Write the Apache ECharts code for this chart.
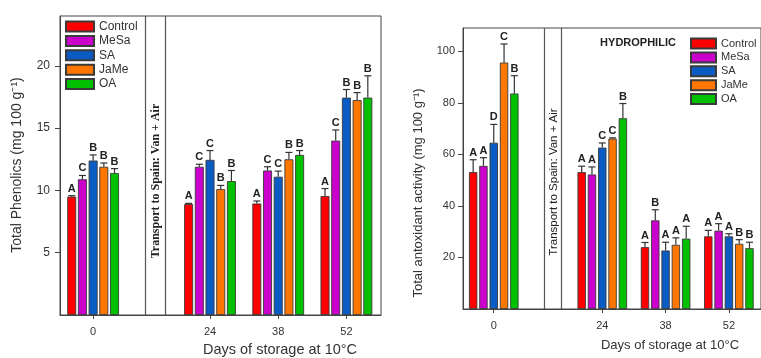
<!DOCTYPE html>
<html><head><meta charset="utf-8">
<script src="https://cdn.jsdelivr.net/npm/echarts@6/dist/echarts.min.js"></script>
<style>html,body{margin:0;padding:0;background:#fff}#c{width:761px;height:358px}</style>
</head><body><div id="c"></div>
<script>
// ---- data ----
const days = [0, 24, 38, 52];
const names = ['Control', 'MeSa', 'SA', 'JaMe', 'OA'];
const colors = ['#ff0000', '#cc00cc', '#0a5cc4', '#ff7700', '#00c000'];

// Total phenolics (left)
const phenControl = [9.5, 8.9, 8.95, 9.55];
const phenMeSa    = [10.9, 11.9, 11.6, 14.0];
const phenSA      = [12.4, 12.45, 11.1, 17.45];
const phenJaMe    = [11.9, 10.1, 12.5, 17.25];
const phenOA      = [11.4, 10.75, 12.85, 17.45];
const phenControlErr = [0.08, 0.06, 0.2, 0.6];
const phenMeSaErr    = [0.3, 0.2, 0.3, 0.85];
const phenSAErr      = [0.45, 0.75, 0.45, 0.65];
const phenJaMeErr    = [0.3, 0.3, 0.55, 0.6];
const phenOAErr      = [0.35, 0.85, 0.35, 1.75];
const phenControlLet = ['A', 'A', 'A', 'A'];
const phenMeSaLet    = ['C', 'C', 'C', 'C'];
const phenSALet      = ['B', 'C', 'C', 'B'];
const phenJaMeLet    = ['B', 'B', 'B', 'B'];
const phenOALet      = ['B', 'B', 'B', 'B'];

// Total antioxidant activity (right)
const taaControl = [53.1, 53.1, 24.0, 28.2];
const taaMeSa    = [55.5, 52.2, 34.4, 30.4];
const taaSA      = [64.5, 62.6, 22.7, 28.2];
const taaJaMe    = [95.6, 66.1, 24.9, 25.3];
const taaOA      = [83.6, 74.0, 27.3, 23.6];
const taaControlErr = [4.8, 2.3, 1.8, 2.3];
const taaMeSaErr    = [3.2, 2.9, 4.1, 2.7];
const taaSAErr      = [7.1, 1.8, 3.2, 1.0];
const taaJaMeErr    = [7.2, 0.3, 2.7, 1.6];
const taaOAErr      = [6.9, 5.7, 4.8, 2.3];
const taaControlLet = ['A', 'A', 'A', 'A'];
const taaMeSaLet    = ['A', 'A', 'B', 'A'];
const taaSALet      = ['D', 'C', 'A', 'A'];
const taaJaMeLet    = ['C', 'C', 'A', 'B'];
const taaOALet      = ['B', 'B', 'A', 'B'];

const phenTicks = [5, 10, 15, 20];
const taaTicks = [20, 40, 60, 80, 100];
const transportLeft = [10.8, 14.9];
const transportRight = [11.2, 14.9];

// ---- build ----
const FONT = 'Liberation Sans, Arial, sans-serif';
const phenVals = [phenControl, phenMeSa, phenSA, phenJaMe, phenOA];
const phenErrs = [phenControlErr, phenMeSaErr, phenSAErr, phenJaMeErr, phenOAErr];
const phenLets = [phenControlLet, phenMeSaLet, phenSALet, phenJaMeLet, phenOALet];
const taaVals = [taaControl, taaMeSa, taaSA, taaJaMe, taaOA];
const taaErrs = [taaControlErr, taaMeSaErr, taaSAErr, taaJaMeErr, taaOAErr];
const taaLets = [taaControlLet, taaMeSaLet, taaSALet, taaJaMeLet, taaOALet];

const panels = [
  { vals: phenVals, errs: phenErrs, lets: phenLets, bw: 9, gap: 1.7, trans: transportLeft },
  { vals: taaVals, errs: taaErrs, lets: taaLets, bw: 8.4, gap: 1.9, trans: transportRight }
];

const series = [];
panels.forEach((p, gi) => {
  // transport separator lines
  series.push({
    type: 'line', xAxisIndex: gi, yAxisIndex: gi, data: [], silent: true,
    markLine: {
      silent: true, symbol: 'none', label: { show: false }, animation: false,
      lineStyle: { color: '#555', width: 1.2, type: 'solid' },
      data: p.trans.map(v => ({ xAxis: v }))
    }
  });
  names.forEach((n, i) => {
    series.push({
      name: n, type: 'bar', xAxisIndex: gi, yAxisIndex: gi,
      barWidth: p.bw, barGap: (p.gap / p.bw * 100) + '%',
      itemStyle: { color: colors[i], borderColor: '#3a3a3a', borderWidth: 0.9 },
      data: days.map((d, k) => [d, p.vals[i][k]]),
      z: 2
    });
  });
  names.forEach((n, i) => {
    const off = (i - 2) * (p.bw + p.gap);
    const lets = p.lets[i];
    series.push({
      type: 'custom', xAxisIndex: gi, yAxisIndex: gi, z: 5, silent: true,
      data: days.map((d, k) => [d, p.vals[i][k], p.errs[i][k]]),
      encode: { x: 0, y: [1, 2] },
      renderItem: function (params, api) {
        const x = api.value(0), y = api.value(1), e = api.value(2);
        const p0 = api.coord([x, y]);
        const p1 = api.coord([x, y + e]);
        const cx = p0[0] + off;
        return {
          type: 'group', children: [
            { type: 'line', shape: { x1: cx, y1: p0[1], x2: cx, y2: p1[1] }, style: { stroke: '#333', lineWidth: 1.2 } },
            { type: 'line', shape: { x1: cx - 3.5, y1: p1[1], x2: cx + 3.5, y2: p1[1] }, style: { stroke: '#333', lineWidth: 1.2 } },
            { type: 'text', x: cx, y: p1[1] - 1.5, style: { text: lets[params.dataIndex], align: 'center', verticalAlign: 'bottom', font: 'bold 11px ' + FONT, fill: '#222' } }
          ]
        };
      }
    });
  });
});

const axisCommonX = (gi) => ({
  type: 'value', gridIndex: gi, min: -6.8, max: 59.1,
  axisLine: { show: true, onZero: false, lineStyle: { color: '#444', width: 1 } },
  axisTick: { show: true, customValues: days, length: 4, lineStyle: { color: '#444' } },
  axisLabel: { customValues: days, color: '#333', fontSize: 11, fontFamily: FONT, margin: 11 },
  splitLine: { show: false }
});

const option = {
  animation: false,
  backgroundColor: '#fff',
  grid: [
    { left: 60, top: 16, width: 321, height: 299, show: true, borderColor: '#444', borderWidth: 1 },
    { left: 463, top: 28, width: 303, height: 281, show: true, borderColor: '#444', borderWidth: 1 }
  ],
  xAxis: [axisCommonX(0), axisCommonX(1)],
  yAxis: [
    { type: 'value', gridIndex: 0, min: 0, max: 24,
      axisLine: { show: true, onZero: false, lineStyle: { color: '#444' } },
      axisTick: { show: true, customValues: phenTicks, length: 5, inside: false, lineStyle: { color: '#444' } },
      axisLabel: { customValues: phenTicks, color: '#333', fontSize: 12, fontFamily: FONT, margin: 10 },
      splitLine: { show: false } },
    { type: 'value', gridIndex: 1, min: 0, max: 109,
      axisLine: { show: true, onZero: false, lineStyle: { color: '#444' } },
      axisTick: { show: true, customValues: taaTicks, length: 5, lineStyle: { color: '#444' } },
      axisLabel: { customValues: taaTicks, color: '#333', fontSize: 11, fontFamily: FONT, margin: 8 },
      splitLine: { show: false } }
  ],
  legend: [
    { data: names, orient: 'vertical', left: 65, top: 20.5, padding: 0, icon: 'rect', itemWidth: 28, itemHeight: 10,
      itemGap: 2.4, selectedMode: false, textStyle: { color: '#333', fontSize: 12, fontFamily: FONT } },
    { data: names, orient: 'vertical', left: 690, top: 37.5, padding: 0, icon: 'rect', itemWidth: 25, itemHeight: 10,
      itemGap: 1.9, selectedMode: false, textStyle: { color: '#333', fontSize: 11, fontFamily: FONT } }
  ],
  graphic: [
    { type: 'text', x: 17, y: 165, rotation: Math.PI / 2,
      style: { text: 'Total Phenolics (mg 100 g⁻¹)', align: 'center', verticalAlign: 'middle', font: '14px ' + FONT, fill: '#333' } },
    { type: 'text', x: 280, y: 350,
      style: { text: 'Days of storage at 10°C', align: 'center', verticalAlign: 'middle', font: '14.5px ' + FONT, fill: '#333' } },
    { type: 'text', x: 155.5, y: 181, rotation: Math.PI / 2,
      style: { text: 'Transport to Spain: Van + Air', align: 'center', verticalAlign: 'middle', font: 'bold 12px Liberation Serif, serif', fill: '#222' } },
    { type: 'text', x: 418, y: 193, rotation: Math.PI / 2,
      style: { text: 'Total antoxidant activity (mg 100 g⁻¹)', align: 'center', verticalAlign: 'middle', font: '13px ' + FONT, fill: '#333' } },
    { type: 'text', x: 670, y: 345,
      style: { text: 'Days of storage at 10°C', align: 'center', verticalAlign: 'middle', font: '13px ' + FONT, fill: '#333' } },
    { type: 'text', x: 554, y: 182, rotation: Math.PI / 2,
      style: { text: 'Transport to Spain: Van + Air', align: 'center', verticalAlign: 'middle', font: '11.5px ' + FONT, fill: '#222' } },
    { type: 'text', x: 638, y: 43,
      style: { text: 'HYDROPHILIC', align: 'center', verticalAlign: 'middle', font: 'bold 11px ' + FONT, fill: '#222' } }
  ],
  series: series
};

const chart = echarts.init(document.getElementById('c'), null, { renderer: 'canvas' });
chart.setOption(option);
</script>
</body></html>
